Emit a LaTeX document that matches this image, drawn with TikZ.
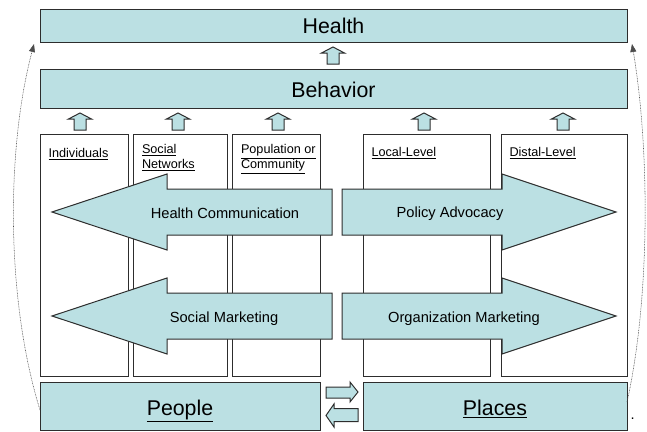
\documentclass[tikz,border=0pt]{standalone}
\usepackage{fontspec}
\setmainfont{Liberation Sans}
\usetikzlibrary{arrows.meta}

\definecolor{boxblue}{RGB}{187,224,227}
\definecolor{boxline}{RGB}{45,45,45}

\tikzset{every picture/.style={line width=0.75pt}}
\tikzset{
  bluebox/.style={draw=boxline, fill=boxblue},
  colbox/.style={draw=boxline, fill=white},
  bigtext/.style={inner sep=0.75pt, font=\fontsize{16}{19}\selectfont},
  arrowtext/.style={inner sep=0.75pt, font=\fontsize{11}{13}\selectfont},
  coltext/.style={inner sep=0.75pt, align=left, font=\fontsize{9.5}{11.25}\selectfont},
  feedback/.style={draw=black!70, line width=0.4pt, dash pattern={on 0.6pt off 0.6pt}, -{Triangle[length=6pt,width=4.5pt]}}
}

\begin{document}
\begin{tikzpicture}[x=0.75pt,y=0.75pt,yscale=-1,xscale=1]
\useasboundingbox (0,0) rectangle (647,432);

%Shape: Rectangle [Health]
\draw [bluebox] (40,9) rectangle (627,42) ;
%Shape: Rectangle [Behavior]
\draw [bluebox] (40,69) rectangle (627,108) ;

%Shape: Up Arrow (Behavior to Health)
\draw [bluebox, shift={(333,47)}] (-6,17) -- (-6,6) -- (-11.5,6) -- (0,0) -- (11.5,6) -- (6,6) -- (6,17) -- cycle ;
%Shape: Up Arrows (columns to Behavior)
\draw [bluebox, shift={(80,113)}] (-6,17) -- (-6,6) -- (-11.5,6) -- (0,0) -- (11.5,6) -- (6,6) -- (6,17) -- cycle ;
\draw [bluebox, shift={(178,113)}] (-6,17) -- (-6,6) -- (-11.5,6) -- (0,0) -- (11.5,6) -- (6,6) -- (6,17) -- cycle ;
\draw [bluebox, shift={(278,113)}] (-6,17) -- (-6,6) -- (-11.5,6) -- (0,0) -- (11.5,6) -- (6,6) -- (6,17) -- cycle ;
\draw [bluebox, shift={(424,113)}] (-6,17) -- (-6,6) -- (-11.5,6) -- (0,0) -- (11.5,6) -- (6,6) -- (6,17) -- cycle ;
\draw [bluebox, shift={(563,113)}] (-6,17) -- (-6,6) -- (-11.5,6) -- (0,0) -- (11.5,6) -- (6,6) -- (6,17) -- cycle ;

%Shape: Rectangle [columns]
\draw [colbox] (40,134) rectangle (128,376) ;
\draw [colbox] (133,134) rectangle (227,376) ;
\draw [colbox] (232,134) rectangle (320,376) ;
\draw [colbox] (363,134) rectangle (490,376) ;
\draw [colbox] (501,134) rectangle (627,376) ;

%Shape: Left Arrow [Health Communication]
\draw [bluebox] (332,189) -- (167,189) -- (167,174) -- (52,212) -- (167,250) -- (167,235) -- (332,235) -- cycle ;
%Shape: Left Arrow [Social Marketing]
\draw [bluebox] (332,293) -- (167,293) -- (167,278) -- (52,316) -- (167,354) -- (167,339) -- (332,339) -- cycle ;
%Shape: Right Arrow [Policy Advocacy]
\draw [bluebox] (342,189) -- (502,189) -- (502,174) -- (616,212) -- (502,250) -- (502,235) -- (342,235) -- cycle ;
%Shape: Right Arrow [Organization Marketing]
\draw [bluebox] (342,293) -- (502,293) -- (502,278) -- (616,316) -- (502,354) -- (502,339) -- (342,339) -- cycle ;

%Shape: Rectangle [People]
\draw [bluebox] (40,382) rectangle (320,430) ;
%Shape: Rectangle [Places]
\draw [bluebox] (363,382) rectangle (627,430) ;

%Shape: Right Arrow (People to Places)
\draw [bluebox] (326,387) -- (350,387) -- (350,382) -- (358,392) -- (350,402) -- (350,398) -- (326,398) -- cycle ;
%Shape: Left Arrow (Places to People)
\draw [bluebox] (358,408.5) -- (334,408.5) -- (334,404) -- (326,415.5) -- (334,427) -- (334,421.5) -- (358,421.5) -- cycle ;

%Curve Lines [feedback, left]
\draw [feedback] (40,410) .. controls (6,300) and (6,150) .. (34,44) ;
%Curve Lines [feedback, right]
\draw [feedback] (627,402) .. controls (650,300) and (650,150) .. (632,44) ;

% Text Node
\draw (333.5,33) node [bigtext, anchor=base] (health) {Health};
% Text Node
\draw (333.5,97) node [bigtext, anchor=base] (behavior) {Behavior};
% Text Node
\draw (180,415) node [bigtext, anchor=base] (people) {\underline{People}};
% Text Node
\draw (495,415) node [bigtext, anchor=base] (places) {\underline{Places}};
% Text Node
\draw (629,419) node [arrowtext, anchor=base west] (dot) {.};

% Text Node
\draw (47,157) node [coltext, anchor=base west] (individuals) {\underline{Individuals}};
% Text Node
\draw (140.5,168.5) node [coltext, anchor=base west] (socialnet) {\underline{Social}\\\underline{Networks}};
% Text Node
\draw (239.5,168.5) node [coltext, anchor=base west] (population) {\underline{Population or}\\\underline{Community}};
% Text Node
\draw (370,156) node [coltext, anchor=base west] (locallevel) {\underline{Local-Level}};
% Text Node
\draw (508,156) node [coltext, anchor=base west] (distallevel) {\underline{Distal-Level}};

% Text Node
\draw (225,218) node [arrowtext, anchor=base] (healthcomm) {Health Communication};
% Text Node
\draw (224,322) node [arrowtext, anchor=base] (socialmkt) {Social Marketing};
% Text Node
\draw (450,217) node [arrowtext, anchor=base] (policyadv) {Policy Advocacy};
% Text Node
\draw (464,322) node [arrowtext, anchor=base] (orgmkt) {Organization Marketing};

\end{tikzpicture}
\end{document}
